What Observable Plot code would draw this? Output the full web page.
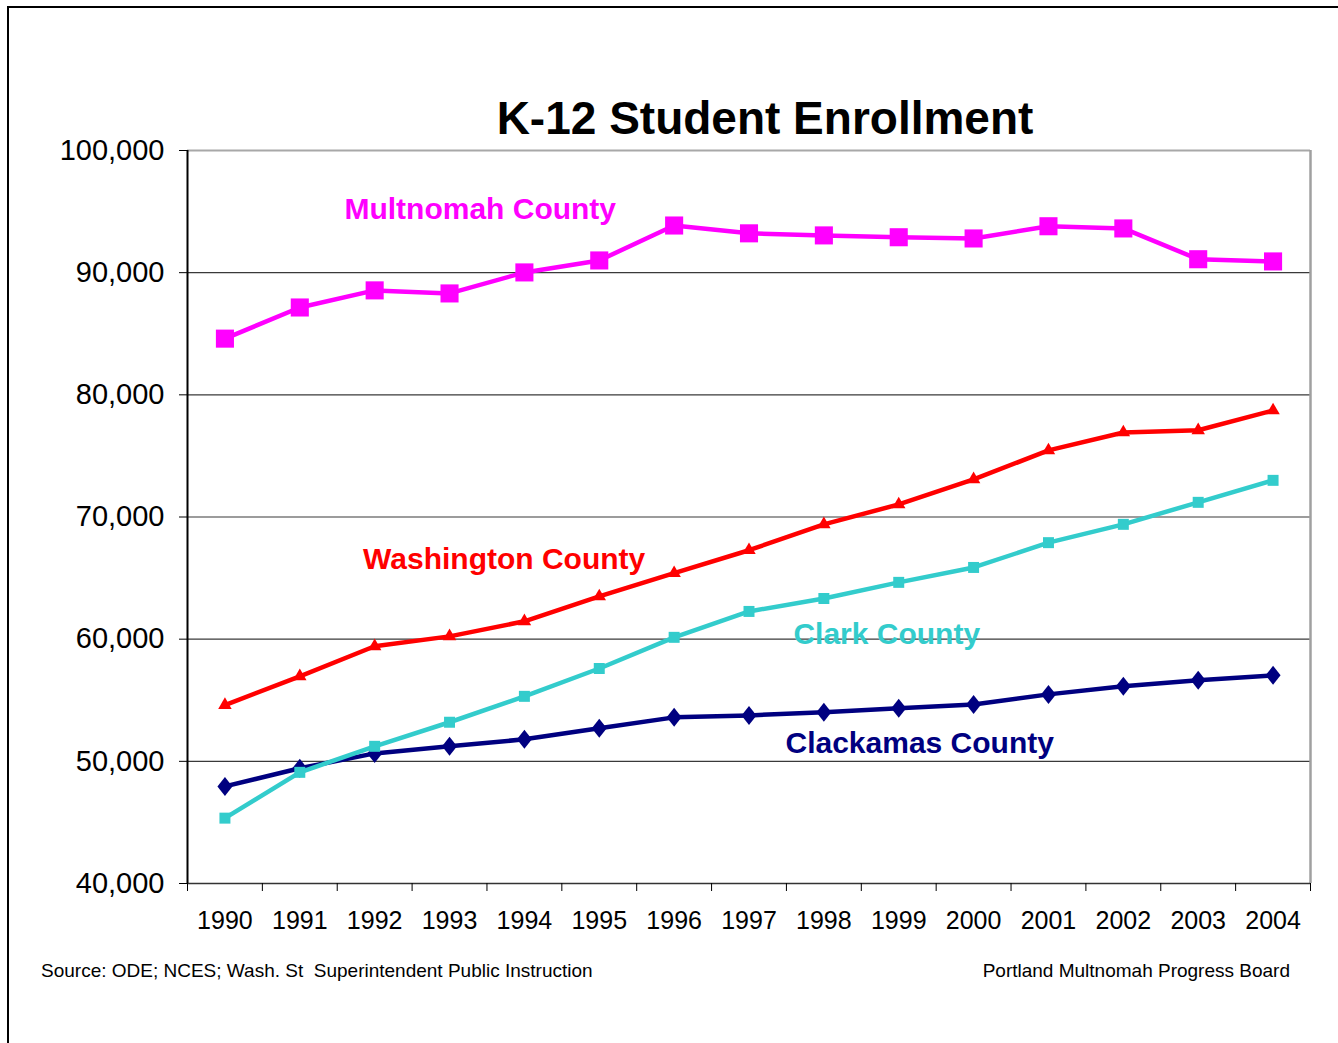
<!DOCTYPE html>
<html>
<head>
<meta charset="utf-8">
<script src="https://cdn.jsdelivr.net/npm/d3@7"></script>
<script src="https://cdn.jsdelivr.net/npm/@observablehq/plot@0.6"></script>
<style>
  html, body { margin: 0; padding: 0; background: white; overflow: hidden; }
  #page { position: relative; width: 1338px; height: 1043px; overflow: hidden; font-family: "Liberation Sans", Arial, sans-serif; }
  #chart { position: absolute; left: 0; top: 0; }
  #frame { position: absolute; left: 7px; top: 6px; width: 1400px; height: 1100px; border-left: 2px solid #000; border-top: 2px solid #000; pointer-events: none; }
  #title { position: absolute; left: 465px; width: 600px; top: 95px; text-align: center; font-size: 46px; line-height: 46px; font-weight: bold; color: #000; }
  .foot { position: absolute; top: 961px; font-size: 19px; line-height: 19px; color: #000; white-space: nowrap; }
</style>
</head>
<body>
<div id="page">
  <div id="chart"></div>
  <div id="title">K-12 Student Enrollment</div>
  <div class="foot" style="left:41px">Source: ODE; NCES; Wash. St&nbsp; Superintendent Public Instruction</div>
  <div class="foot" style="right:48px; text-align:right">Portland Multnomah Progress Board</div>
  <div id="frame"></div>
</div>
<script>
// ---- data ----
const years = [1990, 1991, 1992, 1993, 1994, 1995, 1996, 1997, 1998, 1999, 2000, 2001, 2002, 2003, 2004];
const multnomah  = [84600, 87150, 88550, 88300, 90020, 91000, 93860, 93220, 93050, 92900, 92800, 93800, 93620, 91100, 90920];
const washington = [54600, 56960, 59420, 60230, 61460, 63500, 65400, 67280, 69400, 71030, 73080, 75450, 76920, 77100, 78720];
const clark      = [45350, 49100, 51230, 53200, 55320, 57600, 60150, 62270, 63330, 64650, 65870, 67900, 69400, 71200, 73000];
const clackamas  = [47950, 49430, 50650, 51230, 51800, 52700, 53600, 53760, 54010, 54340, 54660, 55480, 56140, 56630, 57040];
const yTicks = [40000, 50000, 60000, 70000, 80000, 90000, 100000];
const gridValues = [50000, 60000, 70000, 80000, 90000];
const seriesNames = ["Multnomah County", "Washington County", "Clark County", "Clackamas County"];
const labelYears = [1993.41, 1993.73, 1998.84, 1999.28];
const labelValues = [95200, 66520, 60380, 51460];

// ---- tables ----
const toRows = (vals) => years.map((year, i) => ({year, value: vals[i]}));
const mult = toRows(multnomah), wash = toRows(washington), clk = toRows(clark), clack = toRows(clackamas);
const boundaries = d3.range(years.length + 1).map(i => years[0] - 0.5 + i);
const labels = seriesNames.map((name, i) => ({name, year: labelYears[i], value: labelValues[i]}));
const colors = {"Multnomah County": "#FF00FF", "Washington County": "#FF0000", "Clark County": "#33CCCC", "Clackamas County": "#000080"};

const tallDiamond = {
  draw(context, size) {
    const k = Math.sqrt(size / Math.PI);
    const w = 0.75 * k, h = 0.95 * k;
    context.moveTo(0, -h);
    context.lineTo(w, 0);
    context.lineTo(0, h);
    context.lineTo(-w, 0);
    context.closePath();
  }
};

const chart = Plot.plot({
  width: 1338,
  height: 1043,
  marginLeft: 187,
  marginRight: 28,
  marginTop: 150,
  marginBottom: 160,
  style: {fontFamily: "'Liberation Sans', Arial, sans-serif", background: "none", color: "#000"},
  x: {type: "linear", domain: [years[0] - 0.5, years[years.length - 1] + 0.5], axis: null, label: null},
  y: {domain: [40000, 100000], axis: null, label: null},
  marks: [
    Plot.ruleY(gridValues, {stroke: "#3a3a3a", strokeWidth: 1.2}),
    Plot.ruleY([100000], {stroke: "#a8a8a8", strokeWidth: 2}),
    Plot.ruleX([years[years.length - 1] + 0.5], {stroke: "#a0a0a0", strokeWidth: 2.5}),
    Plot.ruleY([40000], {stroke: "#333", strokeWidth: 1.6}),
    Plot.axisY({ticks: yTicks, tickFormat: d3.format(","), tickSize: 8, tickPadding: 15, fontSize: 29, stroke: "#000", label: null}),
    Plot.axisX({ticks: boundaries, tickFormat: () => "", tickSize: 8, stroke: "#000", label: null}),
    Plot.axisX({ticks: years, tickFormat: d => String(d), tickSize: 0, tickPadding: 28, fontSize: 25, label: null}),
    Plot.ruleX([years[0] - 0.5], {stroke: "#000", strokeWidth: 2}),

    Plot.line(mult, {x: "year", y: "value", stroke: colors["Multnomah County"], strokeWidth: 4.5}),
    Plot.dot(mult, {x: "year", y: "value", symbol: "square", r: 10.2, fill: colors["Multnomah County"]}),

    Plot.line(wash, {x: "year", y: "value", stroke: colors["Washington County"], strokeWidth: 4.5}),
    Plot.dot(wash, {x: "year", y: "value", symbol: "triangle", r: 5, fill: colors["Washington County"]}),

    Plot.line(clack, {x: "year", y: "value", stroke: colors["Clackamas County"], strokeWidth: 4.5}),
    Plot.dot(clack, {x: "year", y: "value", symbol: tallDiamond, r: 10, fill: colors["Clackamas County"]}),

    Plot.line(clk, {x: "year", y: "value", stroke: colors["Clark County"], strokeWidth: 4.5}),
    Plot.dot(clk, {x: "year", y: "value", symbol: "square", r: 6.2, fill: colors["Clark County"]}),

    Plot.text(labels, {x: "year", y: "value", text: "name", fill: d => colors[d.name], fontSize: 30, fontWeight: "bold", textAnchor: "middle"})
  ]
});
document.getElementById("chart").appendChild(chart);
</script>
</body>
</html>
